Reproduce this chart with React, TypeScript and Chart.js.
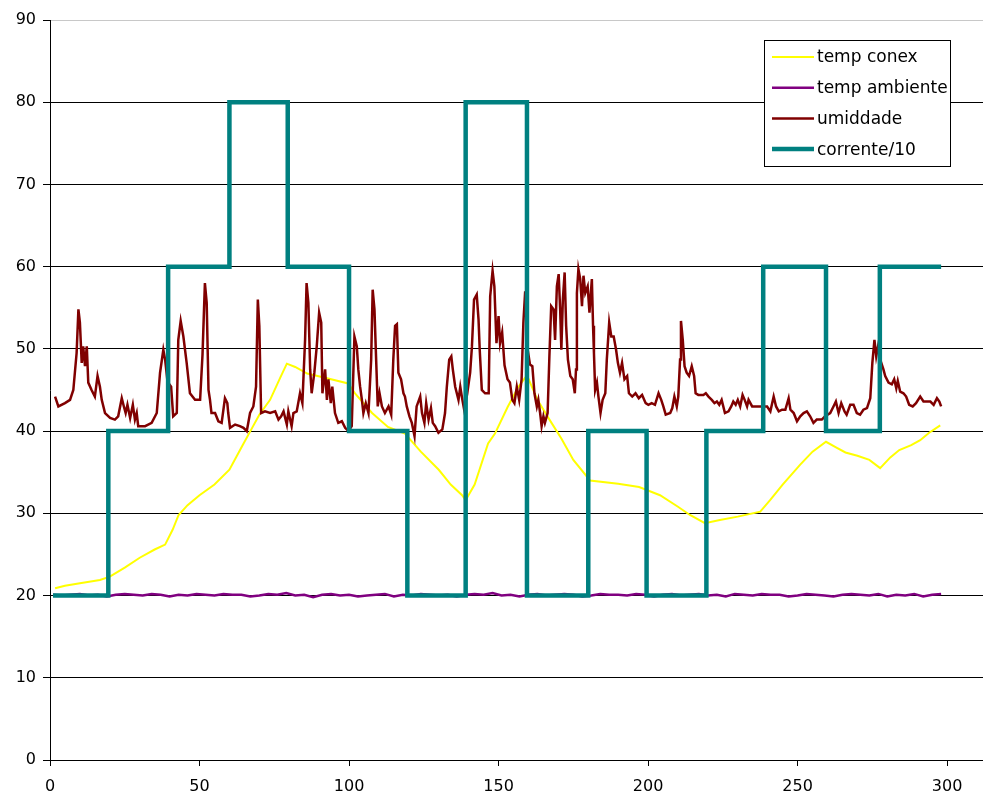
import React, { useEffect, useRef } from "react";
import { Chart, registerables } from "chart.js";

Chart.register(...registerables);

// ---- Data ----
const seriesNames = ["temp conex", "temp ambiente", "umiddade", "corrente/10"];
const seriesColors = ["#FFFF00", "#800080", "#800000", "#008080"];

const xTicks = [0, 50, 100, 150, 200, 250, 300];
const yTicks = [0, 10, 20, 30, 40, 50, 60, 70, 80, 90];

const tempConexX = [1.7, 5, 10, 16.7, 20, 25, 30, 35, 38.5, 41, 43, 46, 50, 55, 60, 64, 67, 70, 73.6, 77, 79.2, 82, 86, 93, 99.7, 102, 107.7, 113, 118.7, 124, 130, 134, 137.8, 139, 142, 146.5, 148.8, 153, 156.5, 159.5, 163, 166.5, 171, 175, 180.6, 190, 197, 204, 210, 214, 219, 224, 230, 237.5, 240.8, 245, 250.8, 255, 259.5, 263, 266, 270, 274, 277.6, 281, 284, 288, 291, 294, 297.7];
const tempConexY = [20.9, 21.2, 21.5, 21.9, 22.3, 23.4, 24.6, 25.6, 26.2, 28.0, 29.8, 31.0, 32.2, 33.5, 35.3, 38.0, 40.0, 42.0, 43.8, 46.5, 48.2, 47.8, 47.0, 46.4, 45.8, 44.6, 42.2, 40.5, 39.7, 37.5, 35.3, 33.5, 32.2, 31.6, 33.5, 38.5, 39.7, 42.9, 45.3, 46.8, 43.8, 41.7, 39.1, 36.5, 34.0, 33.6, 33.2, 32.2, 30.8, 29.8, 28.8, 29.2, 29.6, 30.2, 31.6, 33.5, 35.9, 37.5, 38.7, 38.0, 37.4, 37.0, 36.5, 35.5, 36.8, 37.7, 38.3, 38.9, 39.8, 40.7];

const tempAmbStartX = 1;
const tempAmbStepX = 3;
const tempAmbY = [
  20.1, 20.0, 20.1, 20.2, 20.0, 20.1, 19.9, 20.1, 20.2, 20.1,
  20.0, 20.2, 20.1, 19.9, 20.1, 20.0, 20.2, 20.1, 20.0, 20.2,
  20.1, 20.1, 19.9, 20.0, 20.2, 20.1, 20.3, 20.0, 20.1, 19.8,
  20.1, 20.2, 20.0, 20.1, 19.9, 20.0, 20.1, 20.2, 19.9, 20.1,
  20.0, 20.2, 20.1, 20.0, 20.1, 19.9, 20.1, 20.2, 20.1, 20.3,
  20.0, 20.1, 19.9, 20.1, 20.2, 20.0, 20.1, 20.2, 20.1, 19.9,
  20.0, 20.2, 20.1, 20.1, 20.0, 20.2, 20.1, 19.9, 20.1, 20.2,
  20.0, 20.1, 20.2, 20.0, 20.1, 19.9, 20.2, 20.1, 20.0, 20.2,
  20.1, 20.1, 19.9, 20.0, 20.2, 20.1, 20.0, 19.9, 20.1, 20.2,
  20.1, 20.0, 20.2, 19.9, 20.1, 20.0, 20.2, 19.9, 20.1, 20.2,
];

const umidX = [
  1.7, 2.8, 5, 6.7, 7.8, 8.9, 9.5, 10, 10.6, 11.1, 11.7, 12.3, 12.8, 13.9, 15, 15.9, 16.7, 17.3, 18.4, 20.1,
  21.7, 22.8, 24, 24.7, 25.3, 25.9, 26.8, 27.7, 28.4, 29, 29.5, 31.8, 34, 35.7, 36.8, 37.9, 38.5, 39.3, 40.5, 41.2,
  42.4, 42.9, 43.7, 44.6, 45.7, 46.8, 48.5, 50.2, 51, 51.8, 52.4, 53, 53.5, 54, 55.2, 56.3, 57.4, 58.5, 59.3, 59.6,
  60.2, 61.9, 63.5, 64.7, 65.8, 66.9, 68, 68.9, 69.5, 70, 70.6, 71.9, 73.6, 75.3, 76.4, 77.3, 78.1, 79.2, 79.7, 80.8,
  81.4, 82.5, 83.6, 84.4, 85.3, 85.8, 86.4, 87, 87.5, 88.4, 89.2, 90, 90.7, 91.1, 92, 92.6, 93.1, 93.9, 94.4, 95.3,
  96.4, 97.6, 98.7, 99.8, 100.9, 101.8, 102.6, 103.1, 103.7, 104.3, 104.8, 105.6, 106.5, 107.4, 107.9, 108.5, 109.1, 109.6, 110.2, 111,
  112, 113.2, 114.1, 114.8, 115.4, 116, 116.5, 117.4, 118.2, 118.7, 119.3, 120.2, 121, 121.9, 122.6, 123.8, 124.4, 125.2, 125.8, 126.6,
  127.4, 128, 128.8, 129.9, 131.2, 132.1, 132.7, 133.5, 134.2, 134.7, 135.5, 136.6, 137.2, 137.9, 138.5, 139.5, 140.5, 141.1, 141.8, 142.7,
  143.3, 143.7, 144.4, 145.5, 146.7, 147.2, 148, 148.6, 149.3, 150, 150.5, 151.2, 152, 153, 153.8, 154.6, 155.3, 156.1, 156.9, 157.7,
  158.3, 158.9, 159.7, 160.5, 161.3, 162, 162.8, 163.3, 163.9, 164.4, 165, 165.5, 166.4, 167, 167.6, 168.4, 168.9, 169.5, 170.1, 170.6,
  171, 171.5, 172.1, 172.6, 173.2, 174, 174.8, 175.5, 175.9, 176.2, 176.7, 177.3, 177.9, 178.4, 179, 179.8, 180.4, 181.2, 181.6, 181.9,
  182.3, 182.9, 183.4, 184.1, 184.8, 185.7, 186.2, 187, 187.7, 188.5, 189.3, 189.9, 190.6, 191.3, 192.1, 193, 193.6, 194.7, 195.8, 196.9,
  198, 199.2, 200.1, 201.2, 202.3, 203.5, 204.4, 205.1, 205.9, 207.4, 208.1, 208.8, 209.6, 210.1, 210.7, 211, 211.6, 212.2, 212.9, 213.7,
  214.6, 215.4, 215.9, 216.8, 218.5, 219.3, 220.2, 221.3, 222.2, 223, 223.8, 224.6, 225.7, 226.9, 227.8, 228.5, 229.3, 230, 230.8, 231.6,
  232.3, 233.1, 233.6, 234.8, 236.4, 238.1, 239.8, 240.9, 242, 242.8, 243.7, 244.8, 245.9, 247, 247.6, 248.7, 249.8, 250.9, 252, 253.1,
  254.2, 255.3, 256.4, 258.1, 259.2, 260.9, 262, 262.8, 263.7, 264.6, 265.7, 266.4, 267.6, 268.7, 269.8, 270.9, 272, 273.2, 274.3, 275,
  275.7, 276.3, 277, 277.8, 278.7, 279.3, 280.4, 281.5, 282.3, 283, 283.5, 284.3, 285.4, 286.3, 287.3, 288.5, 289.6, 291, 292.1, 293.3,
  294.4, 295.5, 296.6, 297.4, 298,
];
const umidY = [
  44.2, 43.0, 43.4, 43.8, 45.0, 49.5, 54.8, 53.2, 48.3, 50.3, 47.9, 50.3, 45.9, 45.0, 44.2, 46.7, 45.4, 43.8, 42.2, 41.6,
  41.4, 41.8, 44.0, 43.0, 42.2, 43.2, 41.6, 43.2, 41.4, 42.2, 40.6, 40.6, 41.0, 42.2, 47.1, 49.9, 48.7, 46.0, 45.4, 41.8,
  42.2, 51.1, 53.4, 51.5, 48.3, 44.6, 43.8, 43.8, 49.3, 58.0, 55.6, 45.0, 43.8, 42.2, 42.2, 41.2, 41.0, 44.0, 43.4, 42.2,
  40.4, 40.8, 40.6, 40.4, 40.0, 42.2, 43.0, 45.4, 56.0, 52.8, 42.2, 42.4, 42.2, 42.4, 41.4, 41.8, 42.4, 40.8, 42.4, 40.6,
  42.2, 42.4, 44.6, 43.4, 51.1, 58.0, 55.6, 47.5, 44.6, 47.1, 50.3, 54.4, 53.2, 44.6, 47.5, 43.8, 46.3, 43.4, 45.4, 42.2,
  41.0, 41.2, 40.4, 40.0, 40.6, 51.5, 50.3, 47.5, 45.4, 43.8, 42.2, 43.4, 42.2, 48.7, 57.2, 54.8, 48.3, 43.0, 44.6, 43.0,
  42.2, 43.0, 42.0, 48.7, 52.8, 53.0, 47.1, 46.3, 44.6, 44.2, 43.0, 41.8, 41.0, 39.4, 43.0, 44.2, 42.2, 41.0, 43.4, 41.4,
  42.8, 41.0, 40.6, 39.8, 40.2, 42.2, 45.4, 48.7, 49.1, 47.5, 45.4, 43.8, 45.4, 43.8, 42.6, 44.5, 47.1, 50.3, 56.0, 56.6,
  53.6, 49.9, 45.0, 44.6, 44.6, 56.4, 59.5, 57.6, 50.7, 54.0, 50.7, 52.0, 48.0, 46.3, 45.9, 43.8, 43.4, 45.4, 43.8, 46.3,
  53.2, 57.0, 50.0, 48.1, 47.9, 44.6, 43.0, 43.8, 42.2, 40.6, 41.8, 41.0, 42.2, 49.1, 55.2, 54.8, 51.1, 57.6, 59.1, 54.8,
  49.9, 56.0, 59.3, 52.8, 48.7, 46.7, 46.3, 44.6, 47.5, 56.8, 59.7, 58.5, 55.2, 58.9, 56.8, 57.6, 54.4, 58.5, 52.8, 49.5,
  45.0, 45.9, 44.2, 42.2, 43.8, 44.6, 48.7, 53.2, 51.5, 51.5, 49.9, 48.3, 47.1, 48.3, 46.3, 46.7, 44.6, 44.2, 44.6, 44.0,
  44.4, 43.4, 43.2, 43.4, 43.2, 44.6, 43.8, 43.0, 42.0, 42.2, 42.8, 44.2, 43.0, 44.2, 48.7, 53.4, 51.1, 47.9, 47.1, 46.7,
  47.9, 46.7, 44.6, 44.4, 44.4, 44.6, 44.2, 43.8, 43.4, 43.6, 43.2, 43.8, 42.2, 42.4, 43.0, 43.6, 43.2, 43.8, 43.0, 44.4,
  43.8, 43.0, 43.8, 43.0, 43.0, 43.0, 43.0, 42.4, 44.2, 43.0, 42.4, 42.6, 42.6, 44.0, 42.6, 42.2, 41.2, 41.8, 42.2, 42.4,
  41.8, 41.0, 41.4, 41.4, 41.8, 42.2, 43.0, 43.6, 42.2, 43.4, 42.4, 42.0, 43.2, 43.2, 42.2, 42.0, 42.6, 42.8, 44.0, 48.3,
  51.1, 49.1, 50.5, 48.5, 47.5, 46.7, 45.9, 45.7, 46.3, 45.2, 46.1, 44.8, 44.6, 44.2, 43.2, 43.0, 43.4, 44.2, 43.6, 43.6,
  43.6, 43.2, 44.0, 43.6, 43.0,
];

const correnteStartX = 1;
const correnteEndX = 298;
const correnteStepX = [19.5, 39.5, 60, 79.5, 100, 119.5, 139, 159.5, 180, 199.5, 219.5, 238.5, 259.5, 277.5];
const correnteLevels = [20, 40, 60, 80, 60, 40, 20, 80, 20, 40, 20, 40, 60, 40, 60];

// ---- Build datasets from the arrays ----
function zipXY(xs: number[], ys: number[]) {
  return xs.map((x, i) => ({ x, y: ys[i] }));
}

function tempAmbPoints() {
  return tempAmbY.map((y, i) => ({ x: tempAmbStartX + i * tempAmbStepX, y }));
}

function correntePoints() {
  const pts: { x: number; y: number }[] = [{ x: correnteStartX, y: correnteLevels[0] }];
  correnteStepX.forEach((sx, i) => {
    pts.push({ x: sx, y: correnteLevels[i] });
    pts.push({ x: sx, y: correnteLevels[i + 1] });
  });
  pts.push({ x: correnteEndX, y: correnteLevels[correnteLevels.length - 1] });
  return pts;
}

const FONT = "'DejaVu Sans', Verdana, sans-serif";

const boxLegend = {
  id: "boxLegend",
  afterDraw(chart: any) {
    const ctx = chart.ctx as CanvasRenderingContext2D;
    const bx = 764, by = 40, bw = 186, bh = 126;
    ctx.save();
    ctx.fillStyle = "#ffffff";
    ctx.fillRect(bx, by, bw, bh);
    ctx.strokeStyle = "#000000";
    ctx.lineWidth = 1;
    ctx.strokeRect(bx + 0.5, by + 0.5, bw, bh);
    ctx.font = `17px ${FONT}`;
    ctx.textBaseline = "middle";
    ctx.textAlign = "left";
    chart.data.datasets.forEach((ds: any, i: number) => {
      const y = by + 17 + i * 30.7;
      ctx.strokeStyle = ds.borderColor;
      ctx.lineWidth = ds.borderWidth;
      ctx.beginPath();
      ctx.moveTo(bx + 8, y);
      ctx.lineTo(bx + 50, y);
      ctx.stroke();
      ctx.fillStyle = "#000000";
      ctx.fillText(ds.label, bx + 53, y + 1);
    });
    ctx.restore();
  },
};

export default function App() {
  const ref = useRef<HTMLCanvasElement | null>(null);

  useEffect(() => {
    if (!ref.current) return;
    const chart = new Chart(ref.current, {
      type: "line",
      data: {
        datasets: [
          {
            label: seriesNames[0],
            data: zipXY(tempConexX, tempConexY),
            borderColor: seriesColors[0],
            backgroundColor: seriesColors[0],
            borderWidth: 2,
            order: 4,
          },
          {
            label: seriesNames[1],
            data: tempAmbPoints(),
            borderColor: seriesColors[1],
            backgroundColor: seriesColors[1],
            borderWidth: 2.5,
            order: 3,
          },
          {
            label: seriesNames[2],
            data: zipXY(umidX, umidY),
            borderColor: seriesColors[2],
            backgroundColor: seriesColors[2],
            borderWidth: 2.5,
            order: 2,
          },
          {
            label: seriesNames[3],
            data: correntePoints(),
            borderColor: seriesColors[3],
            backgroundColor: seriesColors[3],
            borderWidth: 4.5,
            order: 1,
          },
        ],
      },
      options: {
        animation: false,
        responsive: false,
        maintainAspectRatio: false,
        parsing: false as any,
        elements: {
          point: { radius: 0, hoverRadius: 0 },
          line: { tension: 0, borderJoinStyle: "miter", fill: false },
        },
        layout: { padding: { top: 20, right: 0, left: 0, bottom: 0 } },
        plugins: {
          legend: { display: false },
          tooltip: { enabled: false },
        },
        scales: {
          x: {
            type: "linear",
            min: 0,
            max: 312,
            afterFit: (s: any) => {
              s.height = 42;
            },
            afterBuildTicks: (s: any) => {
              s.ticks = xTicks.map((v) => ({ value: v }));
            },
            ticks: {
              color: "#000000",
              font: { family: FONT, size: 16 },
              padding: 11,
              maxRotation: 0,
              includeBounds: false,
            },
            grid: {
              drawOnChartArea: false,
              drawTicks: true,
              tickLength: 6,
              tickColor: "#000000",
            },
            border: { display: true, color: "#000000", width: 1 },
          },
          y: {
            type: "linear",
            min: 0,
            max: 90,
            afterFit: (s: any) => {
              s.width = 50;
            },
            afterBuildTicks: (s: any) => {
              s.ticks = yTicks.map((v) => ({ value: v }));
            },
            ticks: {
              color: "#000000",
              font: { family: FONT, size: 16 },
              padding: 7,
            },
            grid: {
              color: (c: any) => (c.tick && c.tick.value === 90 ? "#c8c8c8" : "#000000"),
              lineWidth: 1,
              drawTicks: true,
              tickLength: 7,
              tickColor: "#000000",
            },
            border: { display: true, color: "#000000", width: 1 },
          },
        },
      },
      plugins: [boxLegend],
    });
    return () => chart.destroy();
  }, []);

  return (
    <div style={{ position: "absolute", left: 0, top: 0, width: 983, height: 802, background: "#ffffff" }}>
      <canvas ref={ref} width={983} height={802} style={{ width: 983, height: 802 }} />
    </div>
  );
}
